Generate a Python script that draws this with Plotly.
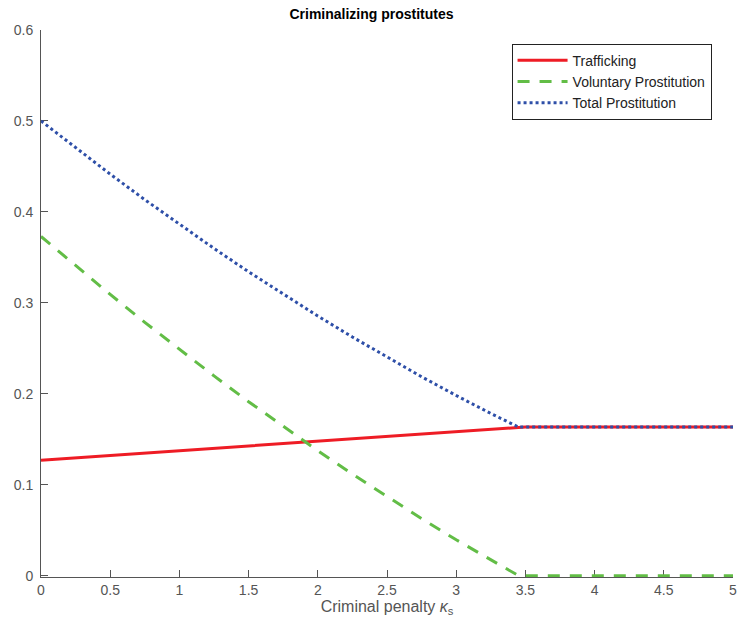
import plotly.graph_objects as go

penalty = [0, 0.25, 0.5, 0.75, 1, 1.25, 1.5, 1.75, 2, 2.25, 2.5, 2.75, 3, 3.25, 3.45, 3.5, 4, 4.5, 5]
trafficking = [0.127, 0.1296, 0.1323, 0.1349, 0.1376, 0.1402, 0.1428, 0.1455, 0.1481, 0.1507,
               0.1534, 0.1560, 0.1587, 0.1613, 0.1634, 0.1634, 0.1634, 0.1634, 0.1634]
voluntary = [0.373, 0.3407, 0.3092, 0.2785, 0.2486, 0.2196, 0.1913, 0.1640, 0.1374, 0.1117,
             0.0868, 0.0627, 0.0394, 0.0170, 0.0, 0.0, 0.0, 0.0, 0.0]
total = [0.500, 0.4703, 0.4415, 0.4134, 0.3862, 0.3598, 0.3341, 0.3095, 0.2855, 0.2624,
         0.2402, 0.2187, 0.1981, 0.1783, 0.1634, 0.1634, 0.1634, 0.1634, 0.1634]

x_ticks = [0, 0.5, 1, 1.5, 2, 2.5, 3, 3.5, 4, 4.5, 5]
x_labels = ["0", "0.5", "1", "1.5", "2", "2.5", "3", "3.5", "4", "4.5", "5"]
y_ticks = [0, 0.1, 0.2, 0.3, 0.4, 0.5, 0.6]
y_labels = ["0", "0.1", "0.2", "0.3", "0.4", "0.5", "0.6"]

FONT = "Liberation Sans, Arial, Helvetica, sans-serif"

fig = go.Figure()
fig.add_trace(go.Scatter(x=penalty, y=trafficking, mode="lines", name="Trafficking",
                         line=dict(color="#ee1c25", width=3)))
fig.add_trace(go.Scatter(x=penalty, y=voluntary, mode="lines", name="Voluntary Prostitution",
                         line=dict(color="#62bd46", width=3, dash="12px,10px")))
fig.add_trace(go.Scatter(x=penalty, y=total, mode="lines", name="Total Prostitution",
                         line=dict(color="#2e4fa8", width=3, dash="3px,3px")))

axis_common = dict(
    showline=True, linecolor="#555555", linewidth=1,
    ticks="inside", ticklen=7, tickcolor="#555555", tickwidth=1,
    showgrid=False, zeroline=False, mirror=False,
    tickfont=dict(family=FONT, size=14, color="#555555"),
    layer="below traces",
)

fig.update_layout(
    width=743, height=625,
    margin=dict(l=41, r=6, t=30, b=48),
    paper_bgcolor="white", plot_bgcolor="white",
    title=dict(text="<b>Criminalizing prostitutes</b>", x=0.5, xanchor="center",
               y=1 - 14 / 625, yanchor="middle",
               font=dict(family=FONT, size=14, color="#000000")),
    xaxis=dict(range=[0, 5], tickvals=x_ticks, ticktext=x_labels,
               title=dict(text="Criminal penalty <i>κ</i><sub>s</sub>", standoff=2,
                          font=dict(family=FONT, size=16, color="#555555")),
               **axis_common),
    yaxis=dict(range=[-0.0015, 0.6], tickvals=y_ticks, ticktext=y_labels,
               ticklabelstandoff=4, **axis_common),
    legend=dict(x=0.68, y=0.975, xanchor="left", yanchor="top",
                bgcolor="white", bordercolor="#222222", borderwidth=1,
                font=dict(family=FONT, size=14, color="#222222"),
                itemwidth=50, tracegroupgap=0),
    showlegend=True,
)

fig.write_html("out.html")
